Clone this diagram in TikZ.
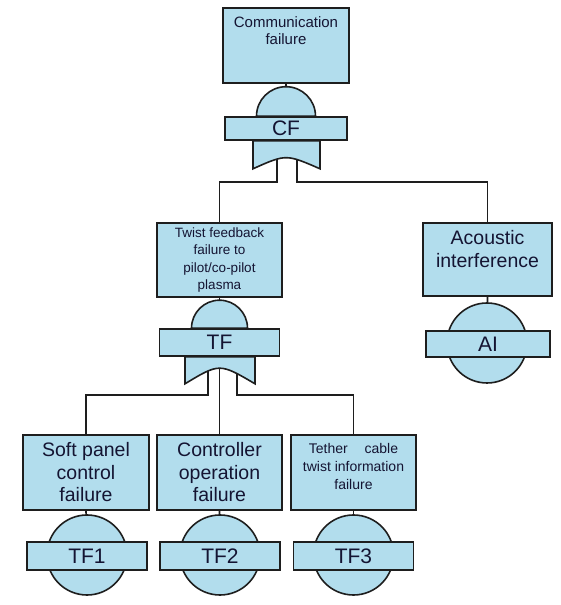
\documentclass[tikz,border=0pt]{standalone}
\usepackage{fontspec}
\setmainfont{Liberation Sans}
\usetikzlibrary{backgrounds}
\definecolor{evfill}{RGB}{178,221,237}
\definecolor{evline}{RGB}{30,30,30}
\definecolor{evtextc}{RGB}{20,20,50}
\begin{document}
\begin{tikzpicture}[x=1pt,y=1pt,
  box/.style={draw=evline,fill=evfill,line width=1.6pt,inner sep=0pt,
    align=center,text=evtextc},
  evtext/.style={align=center,inner sep=0pt,text=evtextc},
  bigtext/.style={font=\fontsize{19.5}{22.5}\selectfont},
  bar/.style={box,minimum width=120pt,font=\fontsize{21}{22}\selectfont},
  gateshape/.style={draw=evline,fill=evfill,line width=1.6pt},
  basic/.style={circle,draw=evline,fill=evfill,line width=1.6pt,
    minimum size=80pt,inner sep=0pt},
  wire/.style={draw=evline,line width=1.6pt}]
\useasboundingbox (0,0) rectangle (561,605);

% ---- top event and its AND gate
\node[box,minimum width=126pt,minimum height=75pt] (cfbox) at (286,559.5) {};
\node[evtext,font=\fontsize{15}{17}\selectfont] (cftext) at (286,574) {Communication\\failure};
\node[bar,minimum width=122pt,minimum height=23pt] (cfbar) at (286,476.5) {CF};

% ---- intermediate events
\node[box,minimum width=125pt,minimum height=74pt,
  font=\fontsize{13.5}{17.5}\selectfont] (tfbox) at (219.5,345)
  {Twist feedback\\failure to\\pilot/co-pilot\\plasma};
\node[bar,minimum height=27pt] (tfbar) at (219.5,262.5) {TF};

\node[box,minimum width=129pt,minimum height=73pt] (aibox) at (487.5,345.5) {};
\node[evtext,bigtext] (aitext) at (487.5,356) {Acoustic\\interference};
\node[basic] (aicirc) at (487,262) {};
\node[bar,minimum width=124pt,minimum height=26pt] (aibar) at (488,261) {AI};

% ---- basic events
\node[box,bigtext,minimum width=126pt,minimum height=75pt] (tf1box) at (86,132.5)
  {Soft panel\\control\\failure};
\node[basic] (tf1circ) at (87,50) {};
\node[bar,minimum height=28pt] (tf1bar) at (87,49) {TF1};

\node[box,bigtext,minimum width=125pt,minimum height=75pt] (tf2box) at (219.5,132.5)
  {Controller\\operation\\failure};
\node[basic] (tf2circ) at (220,50) {};
\node[bar,minimum height=28pt] (tf2bar) at (220,49) {TF2};

\node[box,minimum width=125pt,minimum height=75pt] (tf3box) at (353.5,132.5) {};
\node[evtext,font=\fontsize{14}{18}\selectfont] (tf3text) at (353.5,139)
  {Tether\hspace{1.2em}cable\\twist information\\failure};
\node[basic] (tf3circ) at (353.5,50) {};
\node[bar,minimum height=28pt] (tf3bar) at (353.5,49) {TF3};

% ---- gate inputs
\coordinate (cfl) at (277,446);
\coordinate (cfr) at (297,446);
\coordinate (tfl) at (208,236);
\coordinate (tfc) at (219.5,240);
\coordinate (tfr) at (237,236);

\begin{scope}[on background layer]
  % connectors
  \draw[wire] (cfbox.south) -- (cfbar.north);
  \draw[wire] (cfl) -- ++(0,-23) -| (tfbox.north);
  \draw[wire] (cfr) -- ++(0,-23) -| (aibox.north);
  \draw[wire] (tfbox.south) -- (tfbar.north);
  \draw[wire] (tfl) -- ++(0,-26) -| (tf1box.north);
  \draw[wire] (tfc) -- (tf2box.north);
  \draw[wire] (tfr) -- ++(0,-26) -| (tf3box.north);
  \draw[wire] (aibox.south) -- (aicirc.center);
  \draw[wire] (tf1box.south) -- (tf1circ.center);
  \draw[wire] (tf2box.south) -- (tf2circ.center);
  \draw[wire] (tf3box.south) -- (tf3circ.center);
  % AND gate domes
  \draw[gateshape] ([xshift=-29.5pt]cfbar.north) arc[start angle=180,end angle=0,radius=29.5pt] -- cycle;
  \draw[gateshape] ([xshift=-28pt]tfbar.north) arc[start angle=180,end angle=0,radius=28pt] -- cycle;
  % gate input skirts with concave bottoms
  \draw[gateshape] ([xshift=-33pt]cfbar.south) -- ++(0,-28)
    .. controls (286,451) .. ++(67,0) -- ([xshift=34pt]cfbar.south) -- cycle;
  \draw[gateshape] ([xshift=-34.5pt]tfbar.south) -- ++(0,-27)
    .. controls (219.5,242) .. ++(70,0) -- ([xshift=35.5pt]tfbar.south) -- cycle;
\end{scope}
\end{tikzpicture}
\end{document}
